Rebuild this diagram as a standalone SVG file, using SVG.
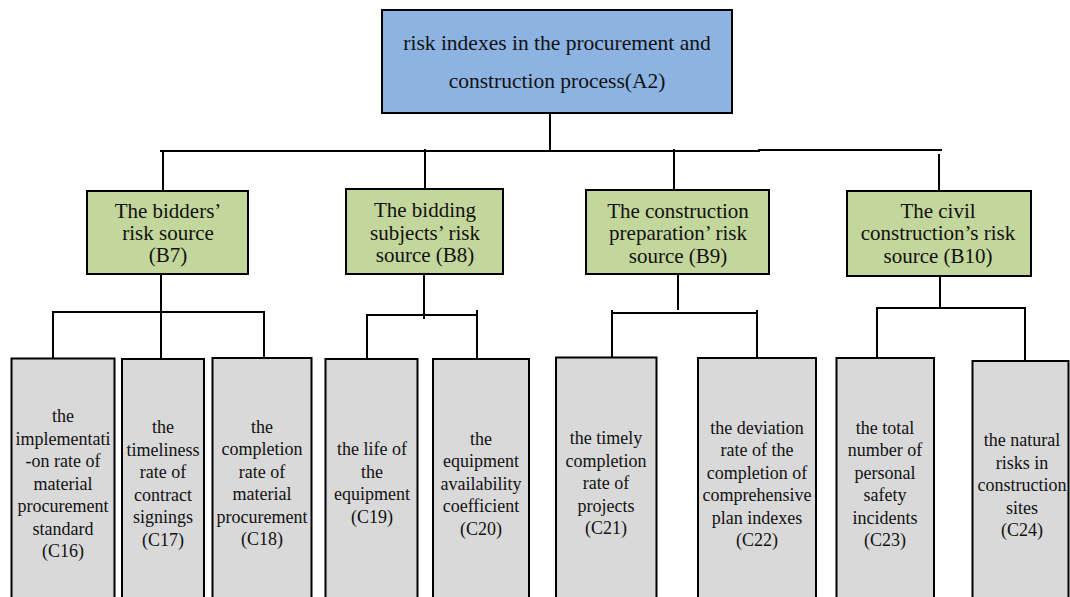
<svg xmlns="http://www.w3.org/2000/svg" width="1070" height="597" viewBox="0 0 1070 597">
  <defs>
    <style>
      .box { stroke: #000; stroke-width: 2; }
      .a { fill: #8DB3E2; }
      .b { fill: #C3D69B; }
      .c { fill: #D9D9D9; }
      .wire { stroke: #000; stroke-width: 2; fill: none; stroke-linecap: square; }
      text { fill: #111; text-anchor: middle; }
      .ta { font-size: 21.5px; }
      .tb { font-size: 21px; }
      .tc { font-size: 18px; }
    </style>
  </defs>
  <rect width="1070" height="597" fill="#fff"/>

  <!-- connectors -->
  <g id="connectors" class="wire">
    <!-- root to level B -->
    <path d="M550 113 V151"/>
    <path d="M161 151 H759"/>
    <path d="M759 150 H941"/>
    <path d="M163 151 V191"/>
    <path d="M425 150 V189"/>
    <path d="M674 150 V190"/>
    <path d="M939 155 V191"/>
    <!-- B7 to C16..C18 -->
    <path d="M161 274 V359"/>
    <path d="M53 312 H264"/>
    <path d="M53 312 V358"/>
    <path d="M264 312 V358"/>
    <!-- B8 to C19, C20 -->
    <path d="M424 274 V318"/>
    <path d="M367 315 H477"/>
    <path d="M367 315 V358"/>
    <path d="M477 311 V358"/>
    <!-- B9 to C21, C22 -->
    <path d="M678 274 V309"/>
    <path d="M612 313 H757"/>
    <path d="M612 311 V357"/>
    <path d="M757 311 V357"/>
    <!-- B10 to C23, C24 -->
    <path d="M940 276 V308"/>
    <path d="M877 308 H1025"/>
    <path d="M877 308 V357"/>
    <path d="M1025 308 V360"/>
  </g>

  <g id="nodes" font-family="Liberation Serif, DejaVu Serif, serif">
  <!-- level A -->
  <g id="A2">
    <rect class="box a" x="382" y="10" width="350" height="103"/>
    <text class="ta" x="557" y="50">risk indexes in the procurement and</text>
    <text class="ta" x="557" y="88">construction process(A2)</text>
  </g>

  <!-- level B -->
  <g id="B7">
    <rect class="box b" x="87" y="191" width="161" height="83"/>
    <text class="tb" x="168" y="218">The bidders’</text>
    <text class="tb" x="168" y="240">risk source</text>
    <text class="tb" x="168" y="262">(B7)</text>
  </g>
  <g id="B8">
    <rect class="box b" x="346" y="189" width="157" height="85"/>
    <text class="tb" x="425" y="217">The bidding</text>
    <text class="tb" x="425" y="239.5">subjects’ risk</text>
    <text class="tb" x="425" y="262">source (B8)</text>
  </g>
  <g id="B9">
    <rect class="box b" x="586" y="190" width="183" height="84"/>
    <text class="tb" x="678" y="218">The construction</text>
    <text class="tb" x="678" y="240">preparation’ risk</text>
    <text class="tb" x="678" y="262.5">source (B9)</text>
  </g>
  <g id="B10">
    <rect class="box b" x="847" y="191" width="184" height="85"/>
    <text class="tb" x="938" y="218">The civil</text>
    <text class="tb" x="938" y="240">construction’s risk</text>
    <text class="tb" x="938" y="262.5">source (B10)</text>
  </g>

  <!-- level C -->
  <g id="C16">
    <rect class="box c" x="11.5" y="358.5" width="103" height="250"/>
    <text class="tc" x="63" y="422">the</text>
    <text class="tc" x="63" y="444.5">implementati</text>
    <text class="tc" x="63" y="467">-on rate of</text>
    <text class="tc" x="63" y="489.5">material</text>
    <text class="tc" x="63" y="512">procurement</text>
    <text class="tc" x="63" y="534.5">standard</text>
    <text class="tc" x="63" y="557">(C16)</text>
  </g>
  <g id="C17">
    <rect class="box c" x="122" y="359" width="82" height="250"/>
    <text class="tc" x="163" y="433">the</text>
    <text class="tc" x="163" y="455.5">timeliness</text>
    <text class="tc" x="163" y="478">rate of</text>
    <text class="tc" x="163" y="500.5">contract</text>
    <text class="tc" x="163" y="523">signings</text>
    <text class="tc" x="163" y="545.5">(C17)</text>
  </g>
  <g id="C18">
    <rect class="box c" x="212.5" y="358" width="99" height="250"/>
    <text class="tc" x="262" y="432.5">the</text>
    <text class="tc" x="262" y="455">completion</text>
    <text class="tc" x="262" y="477.5">rate of</text>
    <text class="tc" x="262" y="500">material</text>
    <text class="tc" x="262" y="522.5">procurement</text>
    <text class="tc" x="262" y="545">(C18)</text>
  </g>
  <g id="C19">
    <rect class="box c" x="325.5" y="359" width="92" height="250"/>
    <text class="tc" x="372" y="455">the life of</text>
    <text class="tc" x="372" y="477.5">the</text>
    <text class="tc" x="372" y="500">equipment</text>
    <text class="tc" x="372" y="522.5">(C19)</text>
  </g>
  <g id="C20">
    <rect class="box c" x="433" y="359" width="96" height="250"/>
    <text class="tc" x="481" y="444.5">the</text>
    <text class="tc" x="481" y="467">equipment</text>
    <text class="tc" x="481" y="489.5">availability</text>
    <text class="tc" x="481" y="512">coefficient</text>
    <text class="tc" x="481" y="534.5">(C20)</text>
  </g>
  <g id="C21">
    <rect class="box c" x="556" y="357.5" width="100.5" height="250"/>
    <text class="tc" x="606" y="444">the timely</text>
    <text class="tc" x="606" y="466.5">completion</text>
    <text class="tc" x="606" y="489">rate of</text>
    <text class="tc" x="606" y="511.5">projects</text>
    <text class="tc" x="606" y="534">(C21)</text>
  </g>
  <g id="C22">
    <rect class="box c" x="698" y="358" width="118" height="250"/>
    <text class="tc" x="757" y="433.5">the deviation</text>
    <text class="tc" x="757" y="456">rate of the</text>
    <text class="tc" x="757" y="478.5">completion of</text>
    <text class="tc" x="757" y="501">comprehensive</text>
    <text class="tc" x="757" y="523.5">plan indexes</text>
    <text class="tc" x="757" y="546">(C22)</text>
  </g>
  <g id="C23">
    <rect class="box c" x="836.5" y="358" width="97.5" height="250"/>
    <text class="tc" x="885" y="433.5">the total</text>
    <text class="tc" x="885" y="456">number of</text>
    <text class="tc" x="885" y="478.5">personal</text>
    <text class="tc" x="885" y="501">safety</text>
    <text class="tc" x="885" y="523.5">incidents</text>
    <text class="tc" x="885" y="546">(C23)</text>
  </g>
  <g id="C24">
    <rect class="box c" x="972.5" y="361" width="96" height="250"/>
    <text class="tc" x="1022" y="446">the natural</text>
    <text class="tc" x="1022" y="468.5">risks in</text>
    <text class="tc" x="1022" y="491">construction</text>
    <text class="tc" x="1022" y="513.5">sites</text>
    <text class="tc" x="1022" y="536">(C24)</text>
  </g>
  </g>
</svg>
